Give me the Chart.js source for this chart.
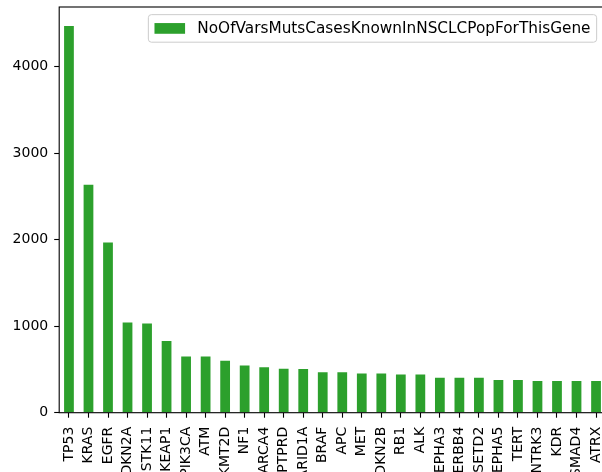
<!DOCTYPE html>
<html><head><meta charset="utf-8">
<script src="https://cdn.jsdelivr.net/npm/chart.js@4.4.1/dist/chart.umd.min.js"></script>
<style>html,body{margin:0;padding:0;overflow:hidden;background:#fff;width:602px;height:472px}canvas{display:block}</style>
</head><body>
<canvas id="c" width="610" height="472"></canvas>
<script>
const genes = ['TP53','KRAS','EGFR','CDKN2A','STK11','KEAP1','PIK3CA','ATM','KMT2D','NF1','SMARCA4','PTPRD','ARID1A','BRAF','APC','MET','CDKN2B','RB1','ALK','EPHA3','ERBB4','SETD2','EPHA5','TERT','NTRK3','KDR','SMAD4','ATRX'];
const counts = [4470,2634,1969,1043,1031,830,650,650,600,547,524,508,506,467,467,454,454,443,443,404,404,404,377,377,366,366,366,366];
const seriesLabel = 'NoOfVarsMutsCasesKnownInNSCLCPopForThisGene';
const yTicks = [0,1000,2000,3000,4000];
const yMax = 4690;

const FONT = 'DejaVu Sans';
const FS = 14;
const LFS = 15.3;
const GREEN = '#2ca02c';

const framePlugin = {
  id: 'frame',
  afterDatasetsDraw(chart) {
    const {ctx, chartArea: a} = chart;
    ctx.save();
    ctx.strokeStyle = '#000';
    ctx.lineWidth = 1.1;
    ctx.strokeRect(a.left, a.top, a.right - a.left, a.bottom - a.top);
    ctx.restore();
  }
};

const legendPlugin = {
  id: 'mplLegend',
  afterDraw(chart) {
    const {ctx, chartArea: a} = chart;
    const label = chart.data.datasets[0].label;
    ctx.save();
    ctx.font = LFS + 'px "' + FONT + '"';
    const tw = ctx.measureText(label).width;
    const pad = 0.4 * LFS, hl = 2.0 * LFS, htp = 0.8 * LFS;
    const w = pad + hl + htp + tw + pad;
    const h = 2 * pad + LFS;
    const right = a.right - 0.5 * LFS - 1.5;
    const left = right - w;
    const top = a.top + 0.5 * LFS;
    const r = 0.2 * LFS;
    ctx.beginPath();
    ctx.moveTo(left + r, top);
    ctx.lineTo(right - r, top);
    ctx.arcTo(right, top, right, top + r, r);
    ctx.lineTo(right, top + h - r);
    ctx.arcTo(right, top + h, right - r, top + h, r);
    ctx.lineTo(left + r, top + h);
    ctx.arcTo(left, top + h, left, top + h - r, r);
    ctx.lineTo(left, top + r);
    ctx.arcTo(left, top, left + r, top, r);
    ctx.closePath();
    ctx.fillStyle = 'rgba(255,255,255,0.8)';
    ctx.fill();
    ctx.strokeStyle = '#cccccc';
    ctx.lineWidth = 1;
    ctx.stroke();
    const cy = top + h / 2;
    ctx.fillStyle = GREEN;
    ctx.fillRect(left + pad, cy - 0.35 * LFS, hl, 0.7 * LFS);
    ctx.fillStyle = '#000';
    ctx.textBaseline = 'middle';
    ctx.textAlign = 'left';
    ctx.fillText(label, left + pad + hl + htp, cy + 1);
    ctx.restore();
  }
};

new Chart(document.getElementById('c'), {
  type: 'bar',
  data: {
    labels: genes,
    datasets: [{
      label: seriesLabel,
      data: counts,
      backgroundColor: GREEN,
      borderWidth: 0,
      categoryPercentage: 1.0,
      barPercentage: 0.5
    }]
  },
  options: {
    responsive: false,
    animation: false,
    devicePixelRatio: 1,
    layout: { padding: { top: 7, right: 4.2, left: 0, bottom: 0 } },
    plugins: { legend: { display: false }, tooltip: { enabled: false } },
    scales: {
      x: {
        offset: true,
        border: { display: false },
        grid: { offset: false, drawOnChartArea: false, drawTicks: true, tickLength: 5, tickWidth: 1.1, tickColor: '#000' },
        ticks: { autoSkip: false, minRotation: 90, maxRotation: 90, padding: 9, color: '#000', font: { family: FONT, size: FS } },
        afterFit(s) { s.height = 59.3; s.paddingLeft = 0; s.paddingRight = 0; }
      },
      y: {
        min: 0, max: yMax,
        border: { display: false },
        grid: { drawOnChartArea: false, drawTicks: true, tickLength: 5, tickWidth: 1.1, tickColor: '#000' },
        ticks: { padding: 6, color: '#000', font: { family: FONT, size: FS }, callback: v => String(v) },
        afterBuildTicks(s) { s.ticks = yTicks.map(v => ({ value: v })); },
        afterFit(s) { s.width = 59.2; s.paddingTop = 0; s.paddingBottom = 0; }
      }
    }
  },
  plugins: [framePlugin, legendPlugin]
});
</script>
</body></html>
